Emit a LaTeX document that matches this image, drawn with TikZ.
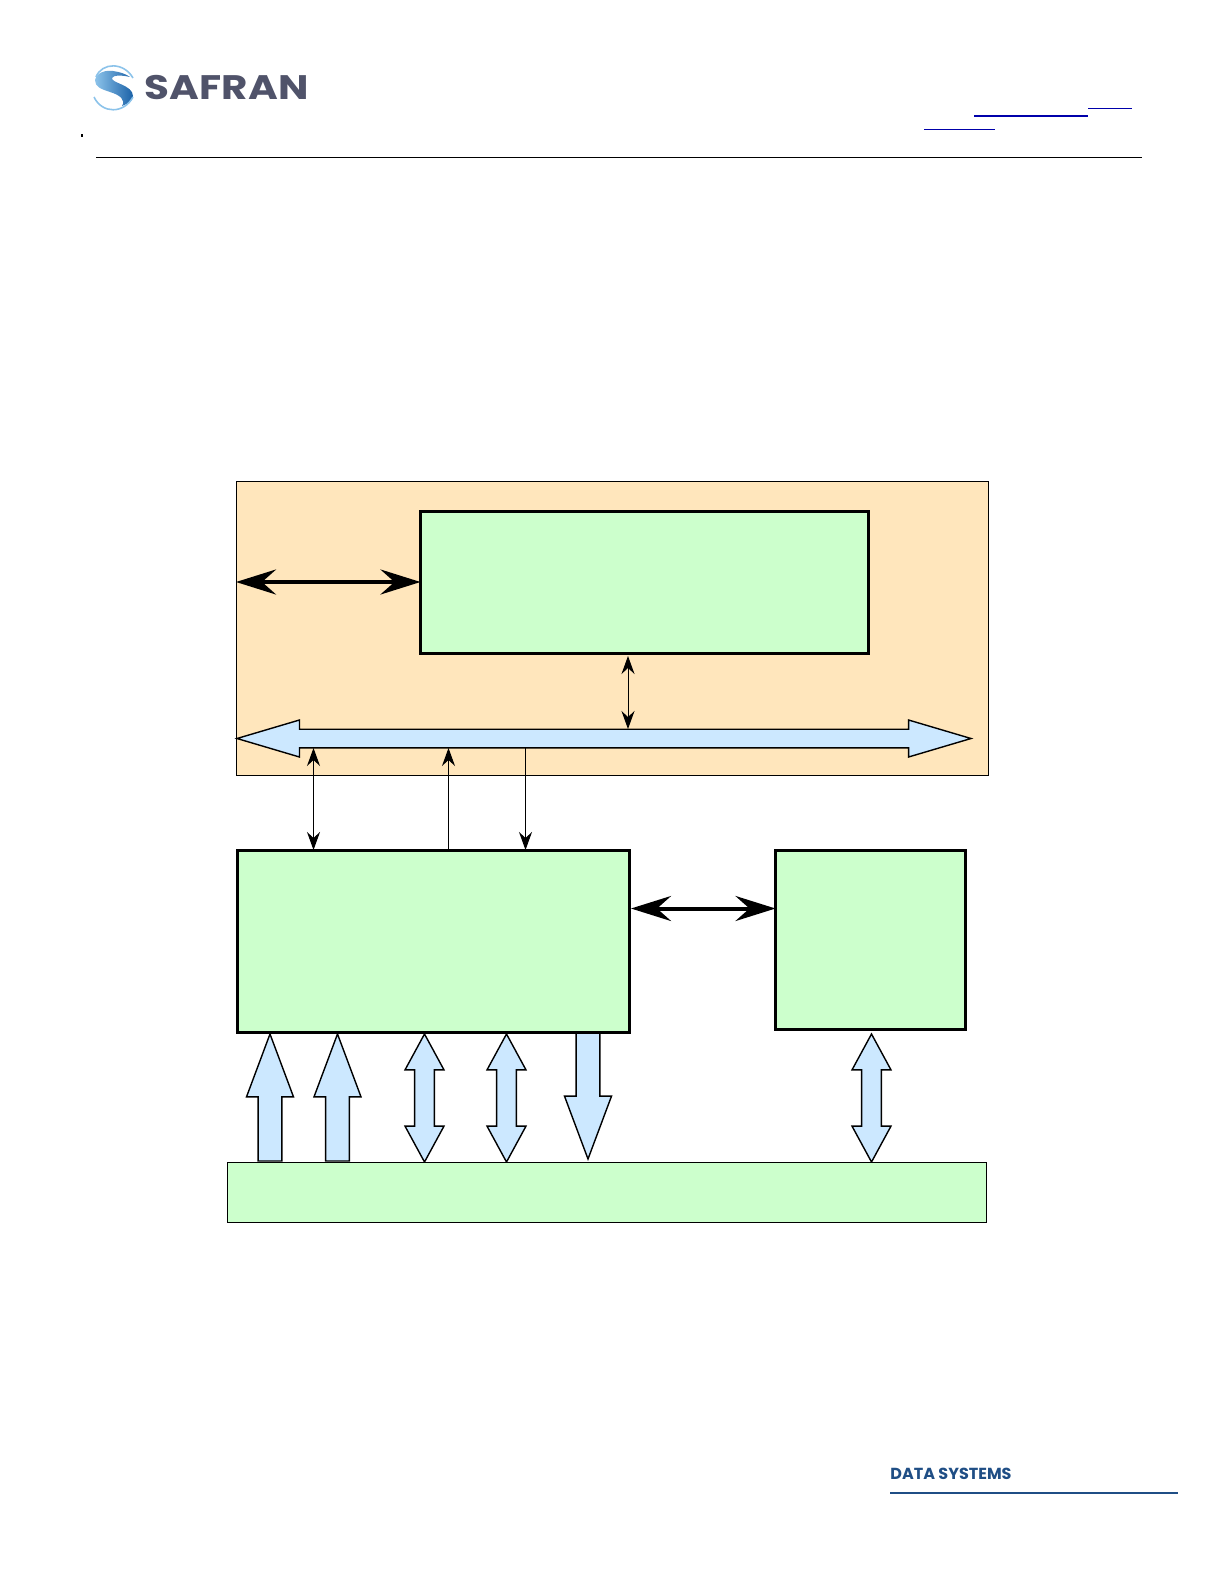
\documentclass[tikz,border=0pt]{standalone}
\usepackage{fontspec}
\setmainfont{Liberation Sans}
\newfontfamily\brandfont{Poppins}
\usepackage{xcolor}
\usetikzlibrary{positioning, arrows.meta, shapes.arrows}

\definecolor{boxgreen}{HTML}{CCFFCC}
\definecolor{boxorange}{HTML}{FFE6BC}
\definecolor{arrowblue}{HTML}{CCE8FF}
\definecolor{safrangrey}{HTML}{50536A}
\definecolor{safranblue}{HTML}{1F4E85}
\definecolor{logolight}{HTML}{8CC3EA}
\definecolor{logodark}{HTML}{1B62A8}
\definecolor{linkblue}{HTML}{0000AA}

\begin{document}
\begin{tikzpicture}[
x=0.5pt, y=-0.5pt,
orangebox/.style={draw, line width=0.5pt, fill=boxorange, anchor=north west, inner sep=0pt, outer sep=0pt},
greenbox/.style={draw, line width=1.5pt, fill=boxgreen, anchor=north west, inner sep=0pt, outer sep=0pt},
flatbox/.style={greenbox, line width=0.7pt},
bigup/.style={draw, line width=0.7pt, fill=arrowblue, single arrow, anchor=tip, inner xsep=0pt, inner ysep=5.6pt, outer sep=0pt,
  minimum height=63.5pt, minimum width=22.8pt, single arrow head extend=5.8pt, single arrow tip angle=41},
bigboth/.style={draw, line width=0.7pt, fill=arrowblue, double arrow, anchor=tip 1, inner xsep=0pt, inner ysep=4.6pt, outer sep=0pt,
  minimum height=64pt, minimum width=18.8pt, double arrow head extend=4.8pt, double arrow tip angle=57},
busarrow/.style={draw, line width=0.7pt, fill=arrowblue, double arrow, anchor=tip 2, inner xsep=0pt, inner ysep=4.3pt, outer sep=0pt,
  minimum height=367pt, minimum width=17.8pt, double arrow head extend=4.6pt, double arrow tip angle=33},
widelink/.style={line width=2pt, >={Stealth[length=20pt, width=12.5pt, inset=7pt]}},
thinlink/.style={line width=0.5pt, >={Stealth[length=9pt, width=6.5pt, inset=3pt]}}
]
\useasboundingbox (0,0) rectangle (1224,1584);

% header
\node[anchor=west, inner sep=0pt, font=\brandfont\bfseries, text=safrangrey, xscale=1.19] (brand) at (144.5,88) {\fontsize{17}{17}\selectfont SAFRAN};
\shade[left color=logolight, right color=logodark] (95,80)
  .. controls (97,72) and (106,70) .. (113,71)
  .. controls (120,72) and (126,74) .. (130,77)
  .. controls (122,75) and (113,75) .. (112,78)
  .. controls (111,83) and (133,85) .. (133,96)
  .. controls (133,100) and (128,104) .. (122,106)
  .. controls (126,100) and (120,95) .. (110,92)
  .. controls (101,89) and (95,87) .. (95,80) -- cycle;
\draw[line width=0.8pt, logolight] (96,77) .. controls (102,62) and (124,62) .. (133,78);
\draw[line width=0.8pt, logolight] (94,97) .. controls (102,114) and (124,114) .. (133,97);
\fill (81,134) rectangle (82.5,137);
\draw[line width=0.45pt] (96,157) coordinate (ruleleft) -- (1142,157) coordinate (ruleright);
\draw[linkblue, line width=1.1pt] (974,116) coordinate (linka) -- (1088,116) coordinate (linkb);
\draw[linkblue, line width=0.5pt] (1088,108.5) coordinate (linkc) -- (1132,108.5) coordinate (linkd);
\draw[linkblue, line width=0.5pt] (924,129.5) coordinate (linke) -- (995,129.5) coordinate (linkf);

% block arrows
\node[bigup, rotate=90] (ina) at (270,1034) {};
\node[bigup, rotate=90] (inb) at (337.5,1034) {};
\node[bigboth, rotate=90] (ioa) at (424.5,1034) {};
\node[bigboth, rotate=90] (iob) at (506.5,1034) {};
\node[bigup, rotate=-90] (outa) at (588,1159) {};
\node[bigboth, rotate=90] (ioc) at (871.5,1034) {};

% boxes
\node[orangebox, minimum width=376pt, minimum height=147pt] (fpga) at (236,481) {};
\node[greenbox, minimum width=224pt, minimum height=71pt] (cpu) at (420.5,511) {};
\node[greenbox, minimum width=196pt, minimum height=91pt] (core) at (237,850) {};
\node[greenbox, minimum width=95pt, minimum height=89.5pt] (memory) at (775.5,850) {};
\node[flatbox, minimum width=379.5pt, minimum height=30pt] (base) at (227.5,1162.5) {};

% bus
\node[busarrow] (bus) at (237,738.5) {};

% thin links
\coordinate (cpulow) at (628,656);
\coordinate (buscpu) at (628,729);
\coordinate (busa) at (313.5,748);
\coordinate (busb) at (448.5,748);
\coordinate (busc) at (525.5,748);
\draw[thinlink, <->] (cpulow) -- (buscpu);
\draw[thinlink, <->] (busa) -- (busa |- core.north);
\draw[thinlink, ->] (busb |- core.north) -- (busb);
\draw[thinlink, ->] (busc) -- (busc |- core.north);

% thick links
\coordinate (edge) at (236,582);
\coordinate (coreport) at (631,908.5);
\draw[widelink, <->] (edge) -- (edge -| cpu.west);
\draw[widelink, <->] (coreport) -- (coreport -| memory.west);

% footer
\node[anchor=west, inner sep=0pt, font=\brandfont\bfseries\fontsize{8}{8}\selectfont, text=safranblue] (division) at (890,1474) {DATA SYSTEMS};
\draw[safranblue, line width=0.6pt] (890,1493) coordinate (footleft) -- (1178,1493) coordinate (footright);
\end{tikzpicture}
\end{document}
